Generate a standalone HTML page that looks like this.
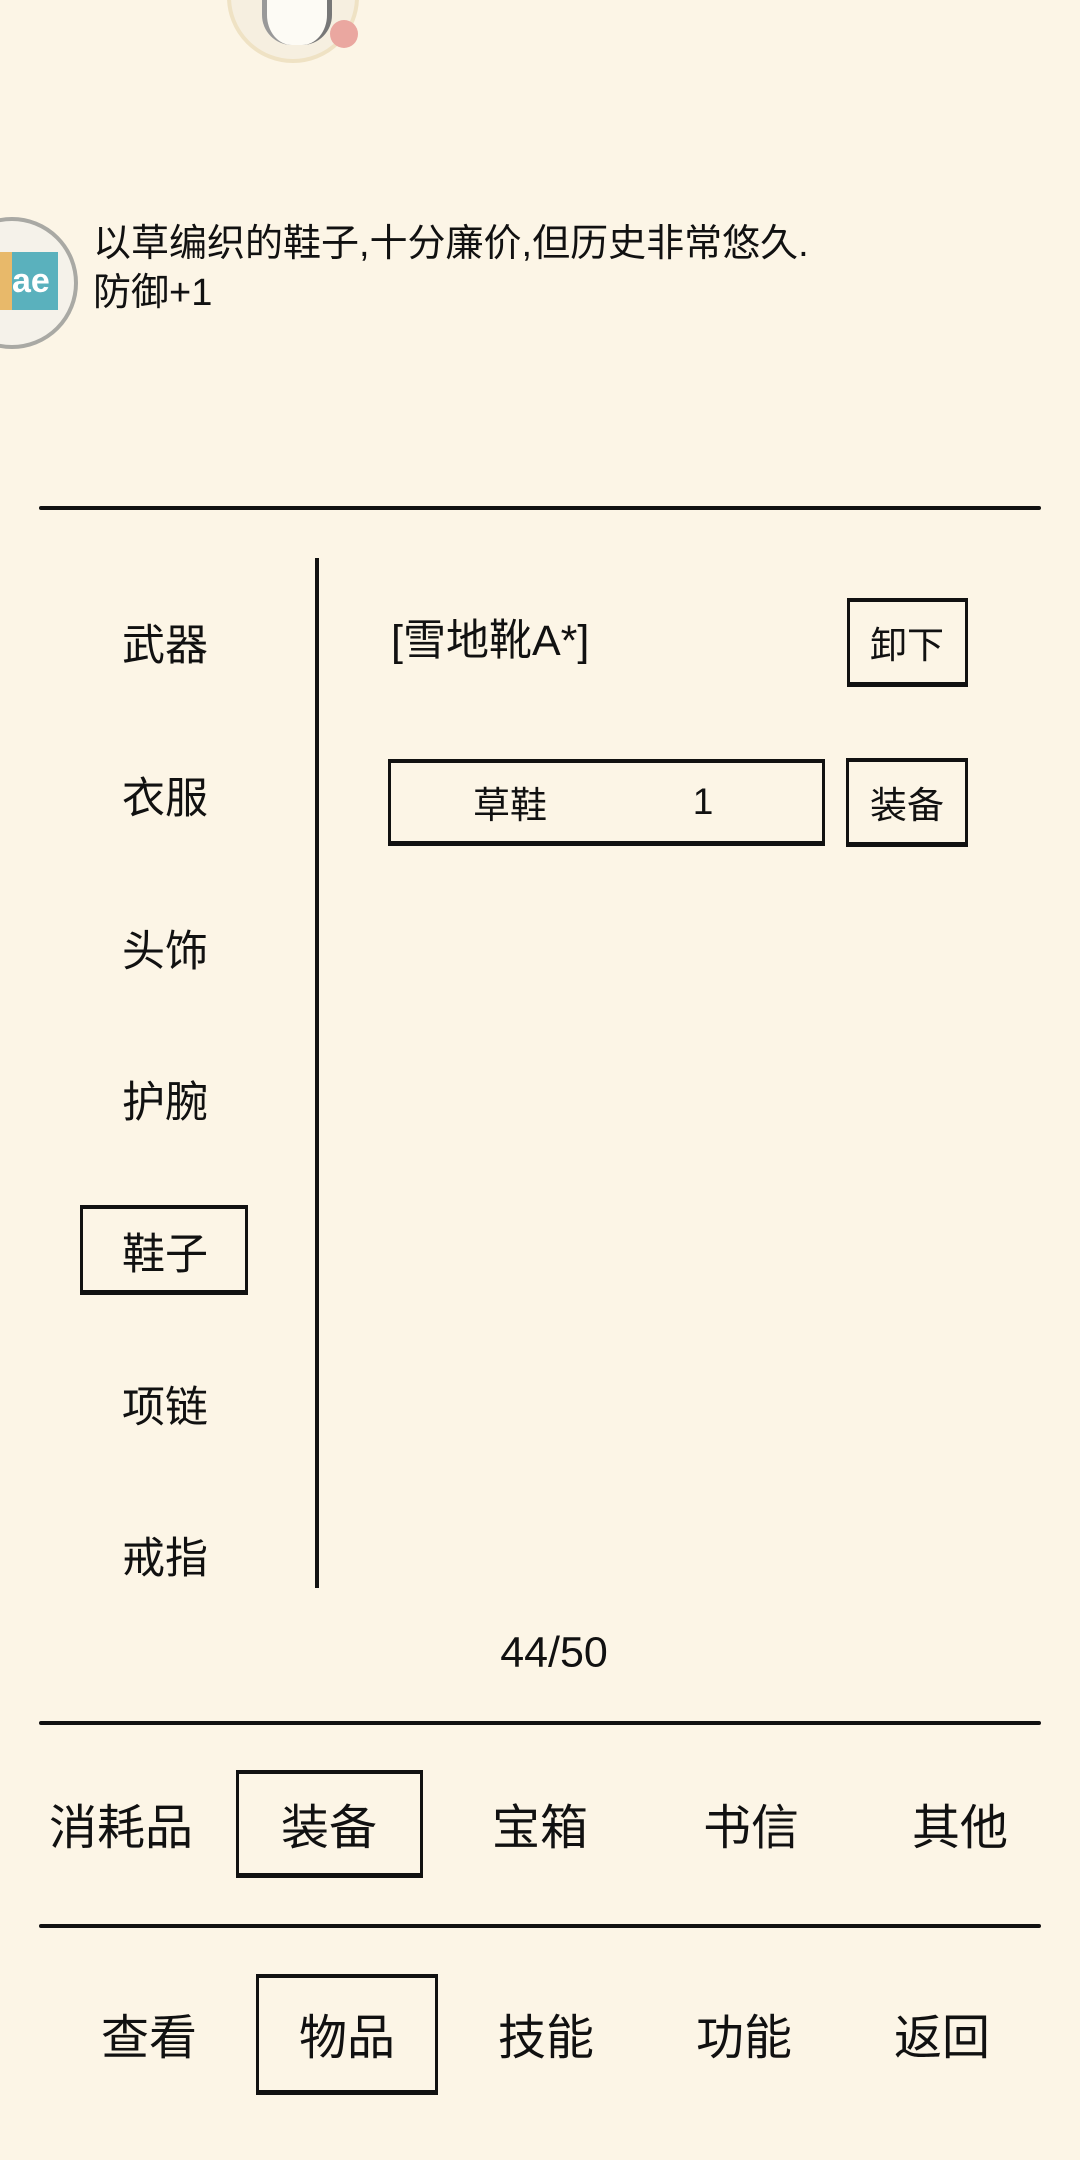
<!DOCTYPE html>
<html><head><meta charset="utf-8"><style>
body{margin:0;width:1080px;height:2160px;background:#fcf5e6;position:relative;overflow:hidden;font-family:"Liberation Sans","Noto Sans CJK SC",sans-serif;color:#111}
.a{position:absolute}
.t{position:absolute;transform:translate(-50%,-50%);white-space:nowrap}
.hl{position:absolute;left:39px;width:1002px;height:4px;background:#111;border-radius:2px}
.box{position:absolute;border:3px solid #111;border-top-width:4px;border-bottom-width:5px;box-sizing:border-box}
</style></head><body>
<div class="a" style="left:227px;top:-69px;width:124px;height:124px;border-radius:50%;background:#f6efe0;border:4px solid #efe2c4"></div>
<div class="a" style="left:262px;top:0px;width:60px;height:45px;border-radius:0 0 30px 30px;background:#fdfbf5;border-left:5px solid #999;border-right:5px solid #777"></div>
<div class="a" style="left:330px;top:20px;width:28px;height:28px;border-radius:50%;background:#eaa7a0"></div>
<div class="a" style="left:-54px;top:217px;width:124px;height:124px;border-radius:50%;background:#f5f2ea;border:4px solid #a9a9a4"></div>
<div class="a" style="left:0;top:252px;width:12px;height:58px;background:#e8b96a"></div>
<div class="a" style="left:12px;top:252px;width:46px;height:58px;background:#5ab1bd;color:#fff;font-size:34px;font-weight:bold;line-height:58px">ae</div>
<div class="a" style="left:93px;top:220px;font-size:38px;line-height:49px">以草编织的鞋子,十分廉价,但历史非常悠久.<br>防御+1</div>
<div class="hl" style="top:506px"></div>
<div class="a" style="left:315px;top:558px;width:4px;height:1030px;background:#111"></div>
<div class="t" style="left:165px;top:642px;font-size:43px">武器</div>
<div class="t" style="left:165px;top:795px;font-size:43px">衣服</div>
<div class="t" style="left:165px;top:948px;font-size:43px">头饰</div>
<div class="t" style="left:165px;top:1099px;font-size:43px">护腕</div>
<div class="box" style="left:80px;top:1205px;width:168px;height:90px"></div>
<div class="t" style="left:165px;top:1251px;font-size:43px">鞋子</div>
<div class="t" style="left:165px;top:1404px;font-size:43px">项链</div>
<div class="t" style="left:165px;top:1555px;font-size:43px">戒指</div>
<div class="a" style="left:391px;top:615px;font-size:43px;line-height:52px">[雪地靴A*]</div>
<div class="box" style="left:847px;top:598px;width:121px;height:89px"></div>
<div class="t" style="left:907px;top:642px;font-size:37px">卸下</div>
<div class="box" style="left:388px;top:759px;width:437px;height:87px"></div>
<div class="t" style="left:510px;top:802px;font-size:37px">草鞋</div>
<div class="t" style="left:703px;top:802px;font-size:37px">1</div>
<div class="box" style="left:846px;top:758px;width:122px;height:89px"></div>
<div class="t" style="left:907px;top:802px;font-size:37px">装备</div>
<div class="t" style="left:554px;top:1653px;font-size:43px">44/50</div>
<div class="hl" style="top:1721px"></div>
<div class="box" style="left:236px;top:1770px;width:187px;height:108px"></div>
<div class="t" style="left:121px;top:1823px;font-size:48px">消耗品</div>
<div class="t" style="left:329px;top:1823px;font-size:48px">装备</div>
<div class="t" style="left:540px;top:1823px;font-size:48px">宝箱</div>
<div class="t" style="left:751px;top:1823px;font-size:48px">书信</div>
<div class="t" style="left:960px;top:1823px;font-size:48px">其他</div>
<div class="hl" style="top:1924px"></div>
<div class="box" style="left:256px;top:1974px;width:182px;height:121px"></div>
<div class="t" style="left:149px;top:2033px;font-size:48px">查看</div>
<div class="t" style="left:347px;top:2033px;font-size:48px">物品</div>
<div class="t" style="left:546px;top:2033px;font-size:48px">技能</div>
<div class="t" style="left:744px;top:2033px;font-size:48px">功能</div>
<div class="t" style="left:942px;top:2033px;font-size:48px">返回</div>
</body></html>
